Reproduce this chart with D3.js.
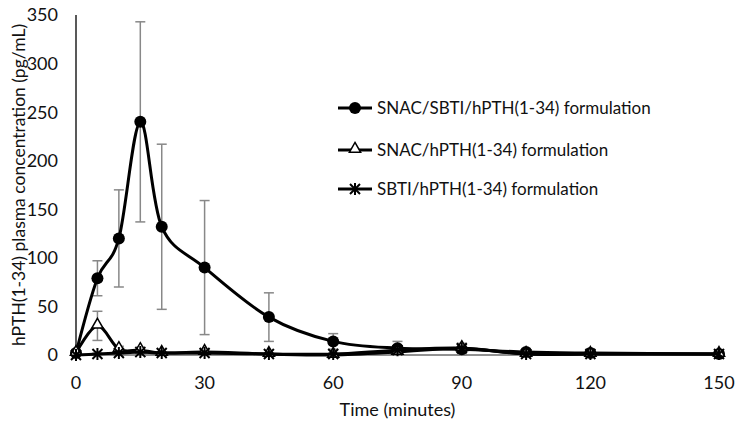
<!DOCTYPE html>
<html>
<head>
	<title>hPTH plasma concentration</title>
	<script src="https://d3js.org/d3.v7.min.js"></script>
	<style>
		body{margin:0;background:#fff;}
		text{font-family:'Lato','Open Sans',sans-serif;fill:#111;}
	</style>
</head>
<body>
	<div class="chart"></div>
	<script>
		const times = [0,5,10,15,20,30,45,60,75,90,105,120,150];
		const seriesNames = ['SNAC/SBTI/hPTH(1-34) formulation','SNAC/hPTH(1-34) formulation','SBTI/hPTH(1-34) formulation'];
		const snacSbti = [2,79,120,240,132,90,39,14,7,6,3,2,1];
		const snacSbtiErr = [2,18,50,103,85,69,25,8,7,6,2,1,1];
		const snac = [2,30,6,5,2,3,1,0,3,7,1,1,1];
		const snacErr = [1,15,3,3,1,2,1,0,3,4,1,1,1];
		const sbti = [0,1,2,3,2,2,1,1,5,7,1,1,1];
		const sbtiErr = [1,1,2,2,1,1,1,1,3,4,1,1,1];
		const xTicks = [0,30,60,90,120,150];
		const yTicks = [0,50,100,150,200,250,300,350];

		const W = 738, H = 425;
		const svg = d3.select('.chart').append('svg').attr('width',W).attr('height',H)

		const x = d3.scaleLinear().domain([0,150]).range([76,719])
		const y = d3.scaleLinear().domain([0,350]).range([355,15])

		// axes
		svg.append('line').attr('x1',x(0)).attr('x2',x(0)).attr('y1',y(350)).attr('y2',y(0)).attr('stroke','#222').attr('stroke-width',1.5)
		svg.append('line').attr('x1',x(0)).attr('x2',x(150)).attr('y1',y(0)).attr('y2',y(0)).attr('stroke','#222').attr('stroke-width',1)

		svg.selectAll('.ytick').data(yTicks).enter().append('text')
			.attr('x',58).attr('y',d=>y(d)).attr('dy','0.36em')
			.attr('text-anchor','end').style('font-size','18px').text(d=>d)
		svg.selectAll('.xtick').data(xTicks).enter().append('text')
			.attr('x',d=>x(d)).attr('y',389)
			.attr('text-anchor','middle').style('font-size','18px').text(d=>d)

		svg.append('text').attr('x',x(75)).attr('y',416).attr('text-anchor','middle')
			.style('font-size','18px').text('Time (minutes)')
		svg.append('text').attr('transform','translate(25,'+y(175)+') rotate(-90)')
			.attr('text-anchor','middle').style('font-size','17.5px')
			.text('hPTH(1-34) plasma concentration (pg/mL)')

		const series = [
			{name:seriesNames[0], vals:snacSbti, err:snacSbtiErr, marker:'circle'},
			{name:seriesNames[1], vals:snac, err:snacErr, marker:'triangle'},
			{name:seriesNames[2], vals:sbti, err:sbtiErr, marker:'star'}
		];

		const line = d3.line().x(d=>x(d[0])).y(d=>y(d[1])).curve(d3.curveCardinal.tension(0))

		function drawMarker(g, type, cx, cy){
			if(type=='circle'){
				g.append('circle').attr('cx',cx).attr('cy',cy).attr('r',6).attr('fill','#000')
			} else if(type=='triangle'){
				g.append('path').attr('d',d3.symbol(d3.symbolTriangle,55)())
					.attr('transform','translate('+cx+','+(cy-1)+')')
					.attr('fill','#fff').attr('stroke','#000').attr('stroke-width',1.5)
			} else {
				const s = 5;
				g.append('path').attr('d','M'+(cx-s)+','+(cy-s)+'L'+(cx+s)+','+(cy+s)+'M'+(cx-s)+','+(cy+s)+'L'+(cx+s)+','+(cy-s)+'M'+cx+','+(cy-s-1)+'L'+cx+','+(cy+s+1))
					.attr('stroke','#000').attr('stroke-width',2).attr('fill','none')
			}
		}

		// error bars
		series.forEach(s=>{
			const g = svg.append('g')
			times.forEach((t,i)=>{
				if(s.err[i]<=0) return;
				const lo = y(Math.max(0,s.vals[i]-s.err[i])), hi = y(s.vals[i]+s.err[i]);
				g.append('line').attr('x1',x(t)).attr('x2',x(t)).attr('y1',lo).attr('y2',hi).attr('stroke','#888').attr('stroke-width',1.5)
				g.append('line').attr('x1',x(t)-5).attr('x2',x(t)+5).attr('y1',lo).attr('y2',lo).attr('stroke','#888').attr('stroke-width',1.5)
				g.append('line').attr('x1',x(t)-5).attr('x2',x(t)+5).attr('y1',hi).attr('y2',hi).attr('stroke','#888').attr('stroke-width',1.5)
			})
		})

		// lines and markers
		series.forEach(s=>{
			const pts = times.map((t,i)=>[t,s.vals[i]]);
			svg.append('path').attr('d',line(pts)).attr('fill','none').attr('stroke','#000').attr('stroke-width',3)
			const g = svg.append('g')
			pts.forEach(p=>drawMarker(g,s.marker,x(p[0]),y(p[1])))
		})

		// legend
		const legY = [108,150,189];
		series.forEach((s,i)=>{
			const g = svg.append('g')
			g.append('line').attr('x1',338).attr('x2',372).attr('y1',legY[i]).attr('y2',legY[i]).attr('stroke','#000').attr('stroke-width',3)
			drawMarker(g,s.marker,355,legY[i])
			g.append('text').attr('x',377).attr('y',legY[i]).attr('dy','0.36em').style('font-size','17px').text(s.name)
		})
	</script>
</body>
</html>
